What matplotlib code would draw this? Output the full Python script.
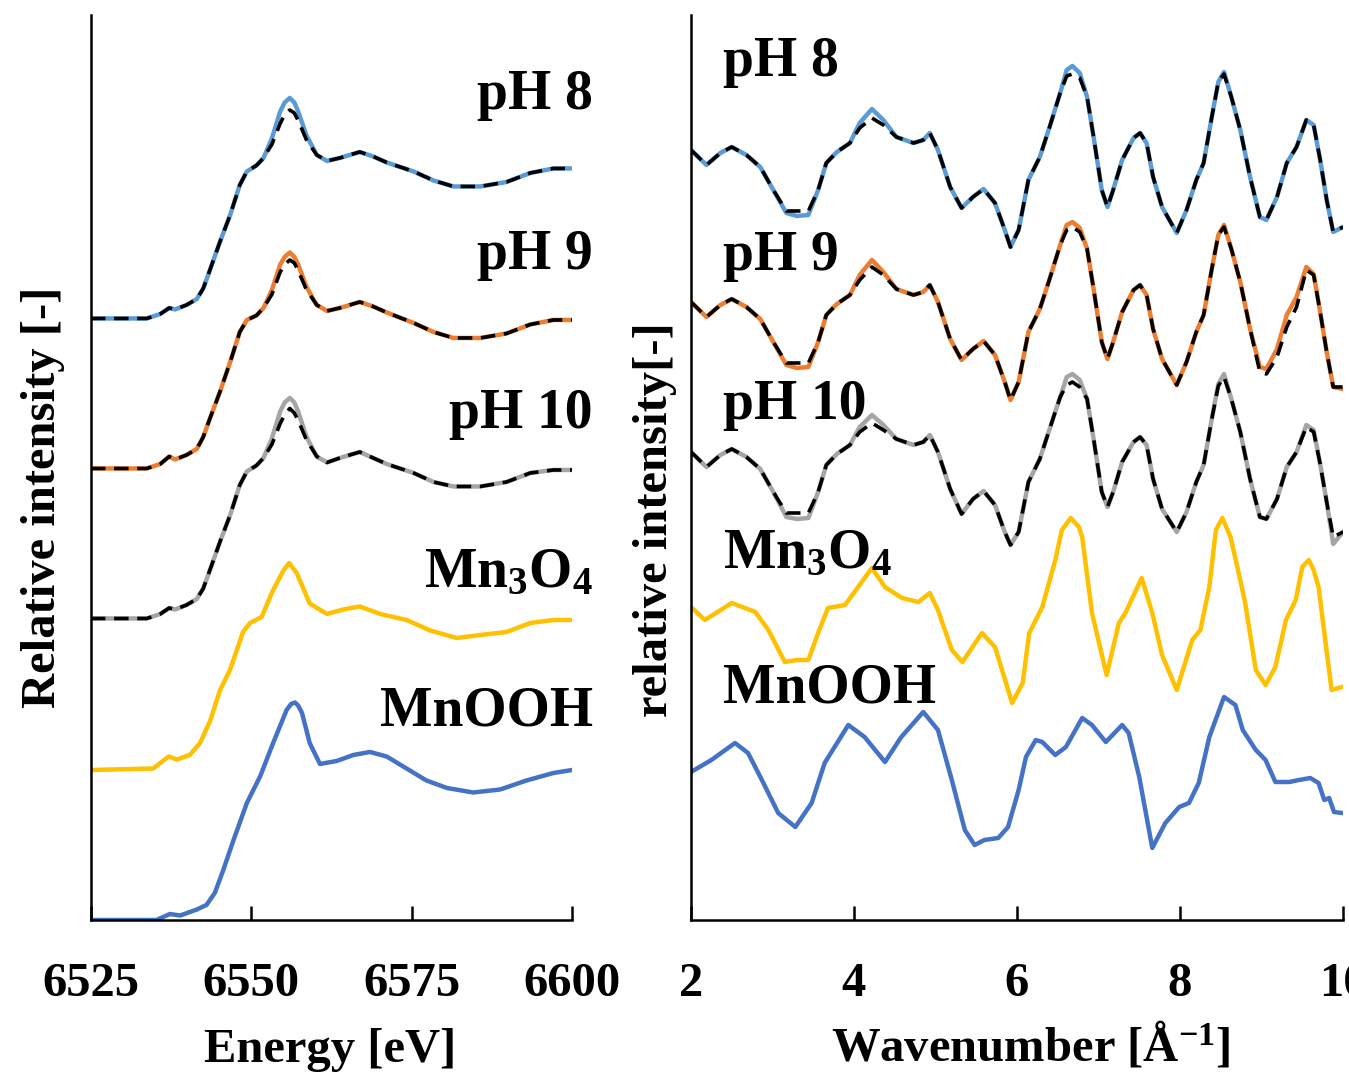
import matplotlib
matplotlib.use("Agg")
import matplotlib.pyplot as plt

plt.rcParams['font.family'] = ['Liberation Serif', 'DejaVu Serif']
plt.rcParams['font.weight'] = 'bold'
plt.rcParams['mathtext.fontset'] = 'custom'
plt.rcParams['mathtext.rm'] = 'Liberation Serif:bold'
plt.rcParams['mathtext.bf'] = 'Liberation Serif:bold'
plt.rcParams['mathtext.it'] = 'Liberation Serif:bold:italic'
plt.rcParams['mathtext.default'] = 'rm'

# ---- XANES (izquierda) ----
energia = [6525.0, 6533.7, 6535.8, 6537.2, 6538.1, 6539.9, 6541.5, 6542.5, 6543.6, 6545.1,
           6546.7, 6548.2, 6549.3, 6550.8, 6551.9, 6553.2, 6554.5, 6555.2, 6556.0, 6556.7,
           6557.3, 6558.6, 6560.2, 6561.8, 6563.8, 6566.9, 6569.0, 6571.1, 6575.3, 6578.4,
           6581.5, 6585.7, 6589.8, 6593.5, 6597.1, 6600.0]
ph8_xanes = [0.01, 0.01, 0.04, 0.08, 0.07, 0.10, 0.14, 0.21, 0.34, 0.52, 0.70, 0.90, 0.99, 1.03,
             1.08, 1.21, 1.39, 1.45, 1.48, 1.45, 1.39, 1.23, 1.10, 1.06, 1.08, 1.12, 1.09, 1.05,
             0.99, 0.93, 0.89, 0.89, 0.92, 0.98, 1.01, 1.01]
ph8_xanes_fit = [0.01, 0.01, 0.04, 0.08, 0.07, 0.10, 0.14, 0.21, 0.34, 0.52, 0.70, 0.90, 0.99, 1.03,
                 1.08, 1.17, 1.31, 1.37, 1.40, 1.38, 1.33, 1.20, 1.10, 1.06, 1.08, 1.12, 1.09, 1.05,
                 0.99, 0.93, 0.89, 0.89, 0.92, 0.98, 1.01, 1.01]
ph9_xanes = [0.01, 0.01, 0.04, 0.09, 0.07, 0.10, 0.14, 0.22, 0.35, 0.52, 0.72, 0.92, 1.00, 1.03,
             1.08, 1.20, 1.37, 1.42, 1.45, 1.42, 1.37, 1.22, 1.10, 1.06, 1.08, 1.12, 1.09, 1.05,
             0.98, 0.92, 0.88, 0.88, 0.91, 0.97, 1.00, 1.00]
ph9_xanes_fit = [0.01, 0.01, 0.04, 0.09, 0.07, 0.10, 0.14, 0.22, 0.35, 0.52, 0.72, 0.92, 1.00, 1.03,
                 1.08, 1.17, 1.32, 1.37, 1.40, 1.38, 1.33, 1.20, 1.10, 1.06, 1.08, 1.12, 1.09, 1.05,
                 0.98, 0.92, 0.88, 0.88, 0.91, 0.97, 1.00, 1.00]
ph10_xanes = [0.01, 0.01, 0.04, 0.08, 0.07, 0.10, 0.14, 0.21, 0.34, 0.52, 0.70, 0.90, 0.99, 1.03,
              1.08, 1.21, 1.39, 1.45, 1.48, 1.45, 1.39, 1.22, 1.09, 1.05, 1.08, 1.12, 1.08, 1.04,
              0.98, 0.92, 0.89, 0.89, 0.92, 0.98, 1.00, 1.00]
ph10_xanes_fit = [0.01, 0.01, 0.04, 0.08, 0.07, 0.10, 0.14, 0.21, 0.34, 0.52, 0.70, 0.90, 0.99, 1.03,
                  1.08, 1.17, 1.31, 1.37, 1.41, 1.38, 1.33, 1.20, 1.09, 1.05, 1.08, 1.12, 1.08, 1.04,
                  0.98, 0.92, 0.89, 0.89, 0.92, 0.98, 1.00, 1.00]

e_mn3o4 = [6525.0, 6534.7, 6537.1, 6538.4, 6540.4, 6542.0, 6543.6, 6545.1, 6546.7, 6548.7,
           6549.8, 6551.6, 6553.4, 6555.0, 6555.9, 6557.1, 6559.1, 6561.8, 6564.3, 6566.9,
           6570.1, 6574.2, 6577.9, 6582.0, 6585.7, 6589.8, 6593.5, 6597.1, 6600.0]
mn3o4_xanes = [0.0, 0.01, 0.09, 0.07, 0.10, 0.18, 0.33, 0.53, 0.67, 0.92, 0.98, 1.02, 1.20, 1.33,
               1.38, 1.31, 1.11, 1.04, 1.07, 1.09, 1.04, 1.00, 0.93, 0.88, 0.90, 0.92, 0.98, 1.00,
               1.00]

e_mnooh = [6525.0, 6535.2, 6537.3, 6538.9, 6541.5, 6543.0, 6544.3, 6545.6, 6547.2, 6549.3,
           6551.4, 6553.4, 6555.5, 6556.2, 6556.8, 6557.3, 6557.9, 6559.1, 6560.7, 6563.3,
           6565.9, 6568.5, 6571.1, 6574.2, 6577.3, 6580.5, 6584.6, 6588.8, 6592.9, 6597.1,
           6600.0]
mnooh_xanes = [0.0, 0.0, 0.04, 0.03, 0.07, 0.10, 0.18, 0.33, 0.53, 0.78, 0.96, 1.18, 1.40, 1.44,
               1.45, 1.43, 1.38, 1.18, 1.04, 1.06, 1.10, 1.12, 1.09, 1.01, 0.93, 0.88, 0.85, 0.87,
               0.93, 0.98, 1.00]

# ---- EXAFS (derecha) ----
k = [2.00, 2.19, 2.36, 2.50, 2.68, 2.85, 3.01, 3.17, 3.30, 3.44,
     3.56, 3.66, 3.79, 3.95, 4.07, 4.22, 4.36, 4.52, 4.73, 4.85,
     4.93, 5.03, 5.18, 5.32, 5.46, 5.59, 5.73, 5.85, 5.92, 6.02,
     6.14, 6.28, 6.40, 6.53, 6.61, 6.68, 6.77, 6.86, 6.94, 7.04,
     7.11, 7.18, 7.29, 7.43, 7.51, 7.59, 7.67, 7.78, 7.96, 8.08,
     8.20, 8.29, 8.39, 8.47, 8.54, 8.63, 8.74, 8.86, 8.98, 9.06,
     9.19, 9.31, 9.43, 9.55, 9.64, 9.72, 9.80, 9.88, 10.0]
ph8_chi = [0.30, 0.15, 0.27, 0.33, 0.25, 0.13, -0.10, -0.33, -0.36, -0.35,
           -0.10, 0.17, 0.28, 0.37, 0.57, 0.71, 0.60, 0.43, 0.37, 0.40,
           0.47, 0.30, -0.07, -0.28, -0.17, -0.09, -0.23, -0.50, -0.67, -0.50,
           0.00, 0.23, 0.53, 0.87, 1.10, 1.14, 1.07, 0.83, 0.43, -0.10,
           -0.27, -0.10, 0.20, 0.42, 0.47, 0.37, 0.03, -0.27, -0.53, -0.30,
           0.00, 0.17, 0.63, 0.98, 1.08, 0.83, 0.50, 0.03, -0.37, -0.40,
           -0.17, 0.17, 0.33, 0.60, 0.55, 0.20, -0.20, -0.52, -0.47]
ph8_chi_fit = [0.30, 0.15, 0.27, 0.33, 0.25, 0.13, -0.10, -0.31, -0.31, -0.31,
               -0.10, 0.17, 0.28, 0.37, 0.52, 0.62, 0.55, 0.43, 0.37, 0.40,
               0.47, 0.30, -0.07, -0.28, -0.17, -0.09, -0.23, -0.50, -0.67, -0.50,
               0.00, 0.23, 0.53, 0.87, 1.04, 1.06, 1.02, 0.83, 0.43, -0.10,
               -0.27, -0.10, 0.20, 0.42, 0.47, 0.37, 0.03, -0.27, -0.53, -0.30,
               0.00, 0.17, 0.63, 0.98, 1.06, 0.83, 0.50, 0.03, -0.37, -0.40,
               -0.17, 0.17, 0.33, 0.60, 0.55, 0.20, -0.20, -0.52, -0.47]
ph9_chi = [0.30, 0.15, 0.27, 0.33, 0.25, 0.13, -0.10, -0.33, -0.36, -0.35,
           -0.10, 0.17, 0.28, 0.37, 0.57, 0.72, 0.60, 0.43, 0.37, 0.40,
           0.47, 0.30, -0.07, -0.28, -0.17, -0.09, -0.23, -0.50, -0.68, -0.50,
           0.00, 0.23, 0.53, 0.87, 1.07, 1.10, 1.04, 0.83, 0.43, -0.10,
           -0.27, -0.10, 0.20, 0.42, 0.47, 0.37, 0.03, -0.27, -0.53, -0.30,
           0.00, 0.17, 0.63, 0.97, 1.07, 0.83, 0.50, 0.03, -0.35, -0.37,
           -0.17, 0.17, 0.35, 0.65, 0.58, 0.20, -0.20, -0.55, -0.57]
ph9_chi_fit = [0.30, 0.15, 0.27, 0.33, 0.25, 0.13, -0.10, -0.31, -0.31, -0.31,
               -0.10, 0.17, 0.28, 0.37, 0.52, 0.65, 0.57, 0.43, 0.37, 0.40,
               0.47, 0.30, -0.07, -0.28, -0.17, -0.09, -0.23, -0.50, -0.68, -0.50,
               0.00, 0.23, 0.53, 0.87, 1.02, 1.05, 1.00, 0.83, 0.43, -0.10,
               -0.27, -0.10, 0.20, 0.42, 0.47, 0.37, 0.03, -0.27, -0.53, -0.30,
               0.00, 0.17, 0.63, 0.97, 1.05, 0.83, 0.50, 0.03, -0.40, -0.42,
               -0.25, 0.05, 0.25, 0.62, 0.57, 0.20, -0.20, -0.55, -0.55]
ph10_chi = [0.30, 0.15, 0.27, 0.33, 0.25, 0.13, -0.10, -0.35, -0.37, -0.36,
            -0.10, 0.17, 0.28, 0.37, 0.55, 0.67, 0.57, 0.43, 0.37, 0.40,
            0.47, 0.30, -0.07, -0.32, -0.17, -0.09, -0.23, -0.50, -0.63, -0.50,
            0.00, 0.23, 0.53, 0.85, 1.05, 1.08, 1.02, 0.83, 0.43, -0.10,
            -0.25, -0.10, 0.20, 0.40, 0.45, 0.37, 0.03, -0.27, -0.50, -0.30,
            0.00, 0.17, 0.63, 0.98, 1.08, 0.83, 0.50, 0.03, -0.35, -0.37,
            -0.17, 0.15, 0.30, 0.57, 0.52, 0.18, -0.20, -0.62, -0.50]
ph10_chi_fit = [0.30, 0.15, 0.27, 0.33, 0.25, 0.13, -0.10, -0.31, -0.31, -0.31,
                -0.10, 0.17, 0.28, 0.37, 0.50, 0.59, 0.52, 0.43, 0.37, 0.40,
                0.47, 0.30, -0.07, -0.32, -0.17, -0.09, -0.23, -0.50, -0.63, -0.50,
                0.00, 0.23, 0.53, 0.85, 0.97, 1.00, 0.95, 0.83, 0.43, -0.10,
                -0.25, -0.10, 0.20, 0.40, 0.45, 0.37, 0.03, -0.27, -0.50, -0.30,
                0.00, 0.17, 0.63, 0.96, 1.05, 0.83, 0.50, 0.03, -0.35, -0.37,
                -0.17, 0.15, 0.30, 0.55, 0.50, 0.18, -0.20, -0.55, -0.50]

k_mn3o4 = [2.0, 2.17, 2.5, 2.79, 2.95, 3.15, 3.3, 3.44, 3.56, 3.68, 3.89, 4.05, 4.22, 4.38,
           4.59, 4.79, 4.93, 5.03, 5.2, 5.33, 5.57, 5.73, 5.94, 6.07, 6.15, 6.31, 6.47, 6.55,
           6.66, 6.76, 6.8, 6.92, 7.1, 7.25, 7.33, 7.53, 7.66, 7.78, 7.96, 8.15, 8.25, 8.36,
           8.44, 8.52, 8.62, 8.72, 8.8, 8.93, 9.05, 9.17, 9.3, 9.42, 9.5, 9.58, 9.64, 9.7,
           9.86, 9.99]
mn3o4_chi = [0.27, 0.14, 0.31, 0.22, 0.04, -0.28, -0.26, -0.26, 0.01, 0.26, 0.29, 0.47, 0.66,
             0.47, 0.36, 0.32, 0.41, 0.24, -0.16, -0.28, 0.01, -0.13, -0.69, -0.49, 0.01, 0.27,
             0.74, 1.04, 1.16, 1.07, 0.97, 0.21, -0.41, 0.11, 0.21, 0.56, 0.21, -0.21, -0.56,
             -0.06, 0.04, 0.47, 1.04, 1.16, 0.97, 0.61, 0.31, -0.36, -0.51, -0.33, 0.14, 0.34,
             0.67, 0.74, 0.64, 0.47, -0.56, -0.53]

k_mnooh = [2.0, 2.25, 2.54, 2.7, 2.87, 3.07, 3.28, 3.48, 3.64, 3.93, 4.13, 4.38, 4.58, 4.85,
           5.03, 5.2, 5.36, 5.48, 5.6, 5.77, 5.89, 6.02, 6.11, 6.23, 6.31, 6.47, 6.6, 6.8, 6.92,
           7.09, 7.29, 7.37, 7.5, 7.66, 7.82, 7.99, 8.11, 8.23, 8.36, 8.54, 8.68, 8.77, 8.93,
           9.05, 9.17, 9.34, 9.46, 9.6, 9.7, 9.77, 9.83, 9.89, 9.99]
mnooh_chi = [0.08, 0.20, 0.37, 0.27, 0.00, -0.33, -0.47, -0.23, 0.17, 0.55, 0.43, 0.18, 0.43,
             0.68, 0.50, 0.00, -0.50, -0.65, -0.60, -0.58, -0.47, -0.10, 0.23, 0.40, 0.38, 0.25,
             0.33, 0.62, 0.55, 0.38, 0.55, 0.47, 0.03, -0.68, -0.43, -0.27, -0.23, -0.03, 0.43,
             0.83, 0.75, 0.50, 0.30, 0.20, -0.02, -0.02, 0.00, 0.02, -0.03, -0.20, -0.18, -0.32,
             -0.33]

nombres = ["pH 8", "pH 9", "pH 10", "Mn$_3$O$_4$", "MnOOH"]
colores = ["#5B9BD5", "#ED7D31", "#A5A5A5", "#FFC000", "#4472C4"]
offs_xanes = [4, 3, 2, 1, 0]
offs_chi = [7.40, 5.88, 4.38, 2.86, 1.40]

fig = plt.figure(figsize=(13.49, 10.79), dpi=100)
ax1 = fig.add_axes([0.06746, 0.14736, 0.35656, 0.83874])
ax2 = fig.add_axes([0.51223, 0.14736, 0.48332, 0.83874])

lw = 3.2
dash = dict(color="black", lw=2.6, linestyle=(0, (4, 2.4)))

# panel izquierdo
xanes = [(energia, ph8_xanes, ph8_xanes_fit), (energia, ph9_xanes, ph9_xanes_fit),
         (energia, ph10_xanes, ph10_xanes_fit), (e_mn3o4, mn3o4_xanes, None),
         (e_mnooh, mnooh_xanes, None)]
for i, (e, mu, fit) in enumerate(xanes):
    o = offs_xanes[i]
    ax1.plot(e, [v + o for v in mu], color=colores[i], lw=lw, solid_joinstyle="round")
    if fit is not None:
        ax1.plot(e, [v + o for v in fit], **dash)

# panel derecho
chis = [(k, ph8_chi, ph8_chi_fit), (k, ph9_chi, ph9_chi_fit), (k, ph10_chi, ph10_chi_fit),
        (k_mn3o4, mn3o4_chi, None), (k_mnooh, mnooh_chi, None)]
for i, (kk, c, fit) in enumerate(chis):
    o = offs_chi[i]
    ax2.plot(kk, [v + o for v in c], color=colores[i], lw=lw, solid_joinstyle="round")
    if fit is not None:
        ax2.plot(kk, [v + o for v in fit], **dash)

ax1.set_xlim(6525, 6600)
ax1.set_ylim(0, 6.033)
ax2.set_xlim(2, 10)
ax2.set_ylim(0, 9.05)

for ax in (ax1, ax2):
    ax.spines["top"].set_visible(False)
    ax.spines["right"].set_visible(False)
    ax.spines["left"].set_linewidth(1.8)
    ax.spines["bottom"].set_linewidth(1.8)
    ax.set_yticks([])
    ax.tick_params(axis="x", direction="in", length=10, width=1.8, pad=30, labelsize=35)
    for t in ax.get_xticklabels():
        t.set_fontweight("bold")

ax1.set_xticks([6525, 6550, 6575, 6600])
ax2.set_xticks([2, 4, 6, 8, 10])

# etiquetas de muestras
lab_y1 = [5.50, 4.43, 3.37, 2.31, 1.39]
lab_y2 = [8.58, 6.64, 5.15, 3.66, 2.31]
for i, n in enumerate(nombres):
    ax1.text(6603.2, lab_y1[i], n, ha="right", va="center", fontsize=40, fontweight="bold")
    ax2.text(2.39, lab_y2[i], n, ha="left", va="center", fontsize=40, fontweight="bold")

fig.text(43 / 1349, 1 - 497 / 1079, "Relative intensity [-]", rotation=90,
         ha="center", va="center", fontsize=35, fontweight="bold")
fig.text(655 / 1349, 1 - 520 / 1079, "relative intensity[-]", rotation=90,
         ha="center", va="center", fontsize=35, fontweight="bold")
fig.text(330 / 1349, 1 - 1050 / 1079, "Energy [eV]", ha="center", va="center",
         fontsize=35, fontweight="bold")
fig.text(1031 / 1349, 1 - 1045 / 1079, "Wavenumber [Å$^{-1}$]", ha="center", va="center",
         fontsize=35, fontweight="bold")

fig.savefig("out.png", dpi=100)
